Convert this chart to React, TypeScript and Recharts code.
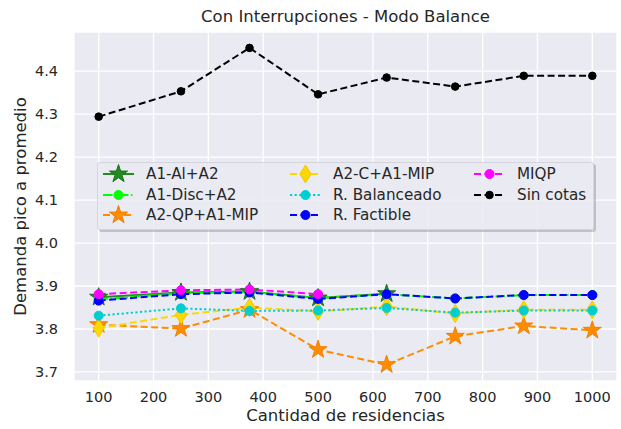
import { CartesianGrid, Line, LineChart, XAxis, YAxis } from "recharts";

const residencias = [100, 250, 375, 500, 625, 750, 875, 1000];

const a1AlA2 = [3.874, 3.885, 3.887, 3.872, 3.882, null, null, null];
const a1DiscA2 = [3.869, 3.883, 3.886, 3.872, 3.881, 3.871, 3.879, 3.879];
const a2QpA1Mip = [3.81, 3.801, 3.845, 3.752, 3.717, 3.783, 3.807, 3.797];
const a2CA1Mip = [3.802, 3.833, 3.85, 3.841, 3.852, 3.836, 3.845, 3.845];
const rBalanceado = [3.831, 3.848, 3.842, 3.843, 3.849, 3.838, 3.843, 3.843];
const rFactible = [3.866, 3.881, 3.885, 3.87, 3.881, 3.871, 3.879, 3.879];
const miqp = [3.881, 3.89, 3.892, 3.881, null, null, null, null];
const sinCotas = [4.294, 4.353, 4.454, 4.346, 4.385, 4.364, 4.389, 4.389];

const xTicks = [100, 200, 300, 400, 500, 600, 700, 800, 900, 1000];
const yTicks = [3.7, 3.8, 3.9, 4.0, 4.1, 4.2, 4.3, 4.4];

type MarkerKind = "star" | "diamond" | "circle";

type Serie = {
  key: string;
  name: string;
  values: (number | null)[];
  color: string;
  edge: string;
  dash?: string;
  marker: MarkerKind;
  size: number;
};

const series: Serie[] = [
  { key: "a1AlA2", name: "A1-Al+A2", values: a1AlA2, color: "#228B22", edge: "#1c6f1c", marker: "star", size: 9.5 },
  { key: "a1DiscA2", name: "A1-Disc+A2", values: a1DiscA2, color: "#00FF00", edge: "#00FF00", dash: "9.6 2.4 1.5 2.4", marker: "circle", size: 4.5 },
  { key: "a2QpA1Mip", name: "A2-QP+A1-MIP", values: a2QpA1Mip, color: "#FF8C00", edge: "#f08000", dash: "7 3.5", marker: "star", size: 9.5 },
  { key: "a2CA1Mip", name: "A2-C+A1-MIP", values: a2CA1Mip, color: "#FFD700", edge: "#f2c800", dash: "7 3.5", marker: "diamond", size: 9 },
  { key: "rBalanceado", name: "R. Balanceado", values: rBalanceado, color: "#00CED1", edge: "#00CED1", dash: "2.2 2.4", marker: "circle", size: 4.5 },
  { key: "rFactible", name: "R. Factible", values: rFactible, color: "#0000FF", edge: "#0000FF", dash: "7 3.5", marker: "circle", size: 4.5 },
  { key: "miqp", name: "MIQP", values: miqp, color: "#FF00FF", edge: "#FF00FF", dash: "7 3.5", marker: "circle", size: 4.5 },
  { key: "sinCotas", name: "Sin cotas", values: sinCotas, color: "#000000", edge: "#000000", dash: "7 3.5", marker: "circle", size: 3.8 },
];

const data = residencias.map((x, i) => {
  const row: Record<string, number | null> = { x };
  series.forEach((s) => {
    row[s.key] = s.values[i];
  });
  return row;
});

const FONT = "'DejaVu Sans', sans-serif";
const TEXT = "#262626";
const LABEL_SIZE = 16.5;

function Marker({ kind, cx, cy, r, fill, stroke }: { kind: MarkerKind; cx: number; cy: number; r: number; fill: string; stroke: string }) {
  if (kind === "star") {
    const pts = [];
    for (let k = 0; k < 10; k++) {
      const a = ((-90 + k * 36) * Math.PI) / 180;
      const rr = k % 2 === 0 ? r : r * 0.382;
      pts.push(`${cx + rr * Math.cos(a)},${cy + rr * Math.sin(a)}`);
    }
    return <polygon points={pts.join(" ")} fill={fill} stroke={stroke} strokeWidth={1} strokeLinejoin="miter" />;
  }
  if (kind === "diamond") {
    const w = r * 0.62;
    return (
      <polygon
        points={`${cx},${cy - r} ${cx + w},${cy} ${cx},${cy + r} ${cx - w},${cy}`}
        fill={fill}
        stroke={stroke}
        strokeWidth={1}
      />
    );
  }
  return <circle cx={cx} cy={cy} r={r} fill={fill} stroke={stroke} strokeWidth={1} />;
}

function makeDot(s: Serie) {
  return (p: any) => {
    const k = `${s.key}-${p.index}`;
    if (p.value == null || p.cx == null || p.cy == null) return <g key={k} />;
    return (
      <g key={k}>
        <Marker kind={s.marker} cx={p.cx} cy={p.cy} r={s.size} fill={s.color} stroke={s.edge} />
      </g>
    );
  };
}

const legendCols = [5, 192, 376];

function LegendBox() {
  return (
    <div
      style={{
        position: "absolute",
        left: 97,
        top: 162,
        width: 495,
        height: 66,
        background: "rgba(234,234,242,0.85)",
        border: "1px solid #d4d4dc",
        borderRadius: 3,
        boxShadow: "2px 2px 0 rgba(0,0,0,0.18)",
        fontFamily: FONT,
        fontSize: 15.2,
        color: TEXT,
      }}
    >
      {series.map((s, i) => {
        const col = Math.floor(i / 3);
        const row = i % 3;
        return (
          <div
            key={s.key}
            style={{
              position: "absolute",
              left: legendCols[col],
              top: 11 + row * 20.5 - 10,
              height: 20,
              display: "flex",
              alignItems: "center",
              whiteSpace: "nowrap",
            }}
          >
            <svg width={32} height={20} style={{ overflow: "visible" }}>
              <line x1={0} y1={10} x2={31} y2={10} stroke={s.color} strokeWidth={2} strokeDasharray={s.dash} />
              <Marker kind={s.marker} cx={15.5} cy={10} r={s.size} fill={s.color} stroke={s.edge} />
            </svg>
            <span style={{ marginLeft: 11 }}>{s.name}</span>
          </div>
        );
      })}
    </div>
  );
}

export default function App() {
  return (
    <div style={{ position: "absolute", left: 0, top: 0, width: 621, height: 429, background: "#fff", fontFamily: FONT }}>
      <div
        style={{
          position: "absolute",
          left: 74,
          top: 7,
          width: 543,
          textAlign: "center",
          fontSize: LABEL_SIZE,
          lineHeight: "20px",
          color: TEXT,
        }}
      >
        Con Interrupciones - Modo Balance
      </div>
      <LineChart width={621} height={429} data={data} margin={{ top: 32, right: 4, left: 14, bottom: 0 }}>
        <CartesianGrid fill="#EAEAF2" stroke="#ffffff" strokeWidth={1.3} />
        <XAxis
          dataKey="x"
          type="number"
          domain={[55, 1045]}
          ticks={xTicks}
          height={48}
          axisLine={false}
          tickLine={false}
          tickSize={0}
          tickMargin={11}
          tick={{ fill: TEXT, fontSize: 14.5, fontFamily: FONT }}
          label={{ value: "Cantidad de residencias", position: "insideBottom", offset: 8, fill: TEXT, fontSize: LABEL_SIZE, fontFamily: FONT }}
        />
        <YAxis
          type="number"
          domain={[3.679, 4.491]}
          ticks={yTicks}
          width={60}
          axisLine={false}
          tickLine={false}
          tickSize={0}
          tickMargin={16}
          allowDataOverflow
          tickFormatter={(v: number) => v.toFixed(1)}
          tick={{ fill: TEXT, fontSize: 14.5, fontFamily: FONT }}
          label={{
            value: "Demanda pico a promedio",
            angle: -90,
            position: "insideLeft",
            offset: 6,
            fill: TEXT,
            fontSize: LABEL_SIZE,
            fontFamily: FONT,
            style: { textAnchor: "middle" },
          }}
        />
        {series.map((s) => (
          <Line
            key={s.key}
            dataKey={s.key}
            name={s.name}
            type="linear"
            stroke={s.color}
            strokeWidth={2}
            strokeDasharray={s.dash}
            dot={makeDot(s)}
            activeDot={false}
            isAnimationActive={false}
          />
        ))}
      </LineChart>
      <LegendBox />
    </div>
  );
}
